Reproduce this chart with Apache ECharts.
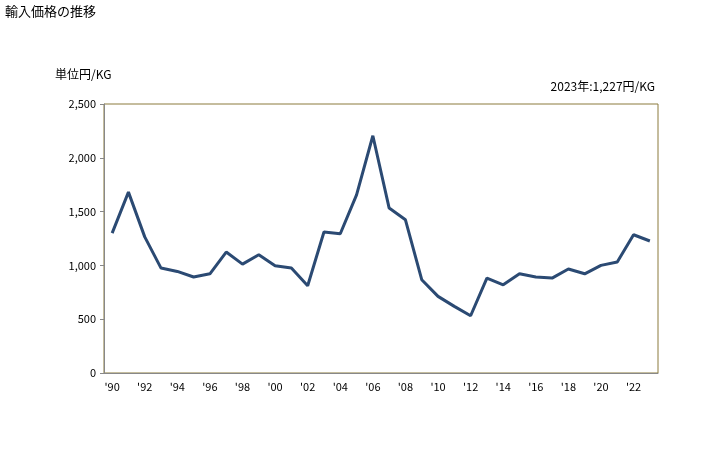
<!DOCTYPE html>
<html>
<head>
<meta charset="utf-8">
<script src="https://cdn.jsdelivr.net/npm/echarts@6/dist/echarts.min.js"></script>
<style>
  html, body { margin: 0; padding: 0; background: #fff; }
  #chart { width: 728px; height: 450px; }
</style>
</head>
<body>
<div id="chart"></div>
<script>
// years 1990-2023, import price (yen/kg)
const years = [
  1990, 1991, 1992, 1993, 1994, 1995, 1996, 1997, 1998, 1999,
  2000, 2001, 2002, 2003, 2004, 2005, 2006, 2007, 2008, 2009,
  2010, 2011, 2012, 2013, 2014, 2015, 2016, 2017, 2018, 2019,
  2020, 2021, 2022, 2023
];
const prices = [
  1300, 1681, 1265, 975, 944, 892, 922, 1124, 1012, 1099,
  997, 975, 811, 1310, 1294, 1656, 2205, 1533, 1424, 867,
  712, 619, 532, 882, 820, 922, 892, 882, 966, 922,
  1000, 1031, 1285, 1227
];
const yTicks = [0, 500, 1000, 1500, 2000, 2500];

const font = "'MS PGothic', 'Noto Sans CJK JP', sans-serif";

const chart = echarts.init(document.getElementById("chart"), null, { renderer: "canvas" });

const option = {
  animation: false,
  backgroundColor: "#fff",
  title: [
    {
      text: "輸入価格の推移",
      left: 0, top: 0,
      textStyle: { fontSize: 13, fontWeight: "normal", color: "#000", fontFamily: font }
    },
    {
      text: "単位円/KG",
      left: 50, top: 63,
      textStyle: { fontSize: 12, fontWeight: "normal", color: "#000", fontFamily: font }
    },
    {
      text: "2023年:1,227円/KG",
      right: 68, top: 75,
      textStyle: { fontSize: 12, fontWeight: "normal", color: "#000", fontFamily: font }
    }
  ],
  grid: {
    left: 104, right: 70, top: 104, bottom: 77,
    show: true, borderColor: "#8b7b3c", borderWidth: 1, backgroundColor: "transparent"
  },
  xAxis: {
    type: "category",
    data: years,
    boundaryGap: true,
    axisLine: { lineStyle: { color: "#888", width: 1 } },
    axisTick: { show: false },
    axisLabel: {
      interval: 1,
      color: "#000",
      fontSize: 11,
      fontFamily: font,
      margin: 8,
      formatter: (v) => "'" + String(v).slice(2)
    },
    splitLine: { show: false }
  },
  yAxis: {
    type: "value",
    min: yTicks[0],
    max: yTicks[yTicks.length - 1],
    interval: 500,
    axisLine: { show: true, lineStyle: { color: "#888", width: 1 } },
    axisTick: { show: true, length: 4, lineStyle: { color: "#888" } },
    axisLabel: {
      color: "#000",
      fontSize: 11,
      fontFamily: font,
      margin: 8,
      formatter: (v) => v.toLocaleString("en-US")
    },
    splitLine: { show: false }
  },
  series: [
    {
      type: "line",
      data: prices,
      symbol: "none",
      lineStyle: { color: "#2b4a73", width: 3 }
    }
  ]
};

chart.setOption(option);
</script>
</body>
</html>
